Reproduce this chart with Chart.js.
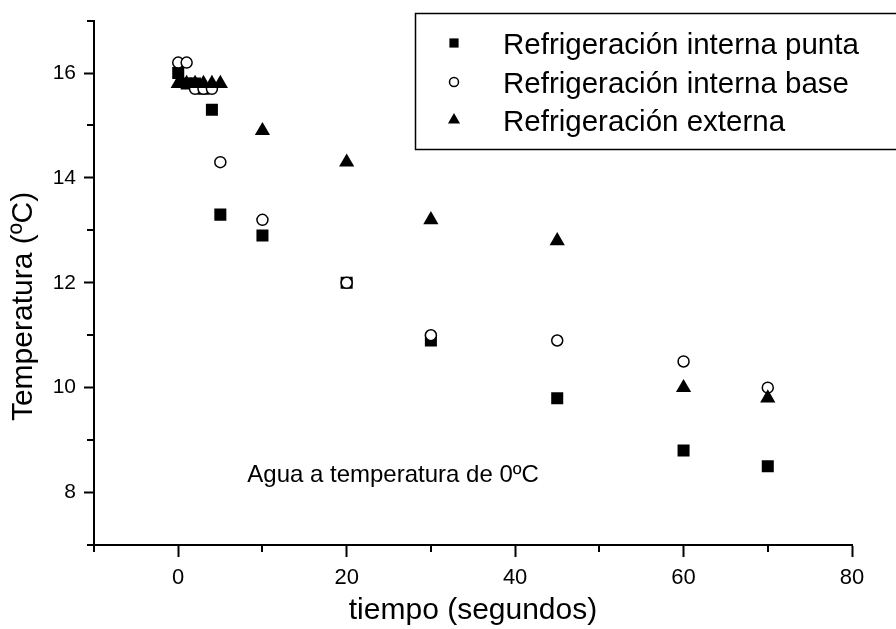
<!DOCTYPE html>
<html>
<head>
<meta charset="utf-8">
<script src="https://cdn.jsdelivr.net/npm/chart.js@4.4.1/dist/chart.umd.min.js"></script>
<style>
  html, body { margin: 0; padding: 0; background: #fff; }
  #wrap { width: 896px; height: 629px; }
</style>
</head>
<body>
<div id="wrap"><canvas id="chart" width="896" height="629"></canvas></div>
<script>
/* tiempo (s) y temperaturas */
const tiempo = [0, 1, 2, 3, 4, 5, 10, 20, 30, 45, 60, 70];
const punta   = [16.0, 15.8, 15.8, 15.7, 15.3, 13.3, 12.9, 12.0, 10.9, 9.8, 8.8, 8.5];
const base    = [16.2, 16.2, 15.7, 15.7, 15.7, 14.3, 13.2, 12.0, 11.0, 10.9, 10.5, 10.0];
const externa = [15.8, 15.8, 15.8, 15.8, 15.8, 15.8, 14.9, 14.3, 13.2, 12.8, 10.0, 9.8];

const etiquetas = ["Refrigeración interna punta", "Refrigeración interna base", "Refrigeración externa"];
const tituloY = "Temperatura (ºC)";
const nota = "Agua a temperatura de 0ºC";
const FUENTE = "'Liberation Sans', Arial, sans-serif";

function puntos(ys) { // junta x e y
  return tiempo.map((t, i) => ({ x: t, y: ys[i] }));
}

/* ticks menores (cortos) en los valores impares */
const ticksMenores = {
  id: "ticksMenores",
  afterDraw(chart) {
    const ctx = chart.ctx;
    const sx = chart.scales.x, sy = chart.scales.y;
    ctx.save();
    ctx.strokeStyle = "#000";
    ctx.lineWidth = 2;
    for (let v = -10; v <= 80; v += 20) {
      const px = Math.round(sx.getPixelForValue(v));
      ctx.beginPath(); ctx.moveTo(px, sx.top); ctx.lineTo(px, sx.top + 7); ctx.stroke();
    }
    for (let v = 7; v <= 17; v += 2) {
      const py = Math.round(sy.getPixelForValue(v));
      ctx.beginPath(); ctx.moveTo(sy.right, py); ctx.lineTo(sy.right - 7, py); ctx.stroke();
    }
    ctx.restore();
  }
};

/* leyenda con caja, titulo del eje y y texto de nota */
const leyenda = {
  id: "leyenda",
  afterDraw(chart) {
    const ctx = chart.ctx;
    ctx.save();
    ctx.strokeStyle = "#000";
    ctx.lineWidth = 1.5;
    ctx.strokeRect(415.5, 13.5, 490, 136);
    ctx.font = "29.5px " + FUENTE;
    ctx.fillStyle = "#000";
    ctx.textBaseline = "alphabetic";
    const filas = [43, 82, 120];
    chart.data.datasets.forEach((ds, i) => {
      const st = { pointStyle: ds.pointStyle, radius: ds.legendRadius, borderWidth: ds.borderWidth, rotation: 0 };
      ctx.fillStyle = ds.backgroundColor;
      ctx.strokeStyle = ds.borderColor;
      ctx.lineWidth = ds.borderWidth;
      Chart.helpers.drawPoint(ctx, st, 454, filas[i]);
      ctx.fillStyle = "#000";
      ctx.fillText(ds.label, 503, filas[i] + 11);
    });
    // nota dentro del gráfico
    ctx.font = "24px " + FUENTE;
    ctx.fillText(nota, chart.scales.x.getPixelForValue(8.2), chart.scales.y.getPixelForValue(8.21));
    // titulo del eje y (un poco mas abajo del centro)
    ctx.font = "30px " + FUENTE;
    ctx.translate(24, chart.scales.y.getPixelForValue(11.55));
    ctx.rotate(-Math.PI / 2);
    ctx.textAlign = "center";
    ctx.textBaseline = "middle";
    ctx.fillText(tituloY, 0, 0);
    ctx.restore();
  }
};

const config = {
  type: "scatter",
  data: {
    datasets: [
      {
        label: etiquetas[0], data: puntos(punta), order: 3,
        pointStyle: "rect", pointRadius: 8.5, legendRadius: 6.5,
        backgroundColor: "#000", borderColor: "#000", borderWidth: 0
      },
      {
        label: etiquetas[1], data: puntos(base), order: 2,
        pointStyle: "circle", pointRadius: 5.5, legendRadius: 4.5,
        backgroundColor: "#fff", borderColor: "#000", borderWidth: 1.5
      },
      {
        label: etiquetas[2], data: puntos(externa), order: 1,
        pointStyle: "triangle", pointRadius: 8.8, legendRadius: 7,
        backgroundColor: "#000", borderColor: "#000", borderWidth: 0
      }
    ]
  },
  options: {
    responsive: false,
    animation: false,
    layout: { padding: { top: 19, right: 44, left: 0, bottom: 0 } },
    plugins: { legend: { display: false }, tooltip: { enabled: false } },
    scales: {
      x: {
        type: "linear", min: -10, max: 80,
        afterFit(s) { s.height = 84; },
        border: { display: true, color: "#000", width: 2 },
        grid: {
          drawOnChartArea: false, tickLength: 12, tickWidth: 2,
          tickColor: c => (c.tick && c.tick.value % 20 === 0) ? "#000" : "rgba(0,0,0,0)"
        },
        ticks: {
          stepSize: 10, padding: 8, color: "#000", maxRotation: 0, autoSkip: false,
          font: { family: FUENTE, size: 22 },
          callback: v => (v % 20 === 0 ? v : "")
        },
        title: {
          display: true, text: "tiempo (segundos)", color: "#000",
          font: { family: FUENTE, size: 30 }, padding: { top: 4, bottom: 0 }
        }
      },
      y: {
        type: "linear", min: 7, max: 17,
        afterFit(s) { s.width = 94; },
        border: { display: true, color: "#000", width: 2 },
        grid: {
          drawOnChartArea: false, tickLength: 10, tickWidth: 2,
          tickColor: c => (c.tick && c.tick.value % 2 === 0) ? "#000" : "rgba(0,0,0,0)"
        },
        ticks: {
          stepSize: 1, padding: 8, color: "#000", autoSkip: false,
          font: { family: FUENTE, size: 21 },
          callback: v => (v % 2 === 0 ? v : "")
        },
        title: { display: false, text: tituloY }
      }
    }
  },
  plugins: [ticksMenores, leyenda]
};

let myChart = new Chart(document.getElementById("chart"), config);
</script>
</body>
</html>
